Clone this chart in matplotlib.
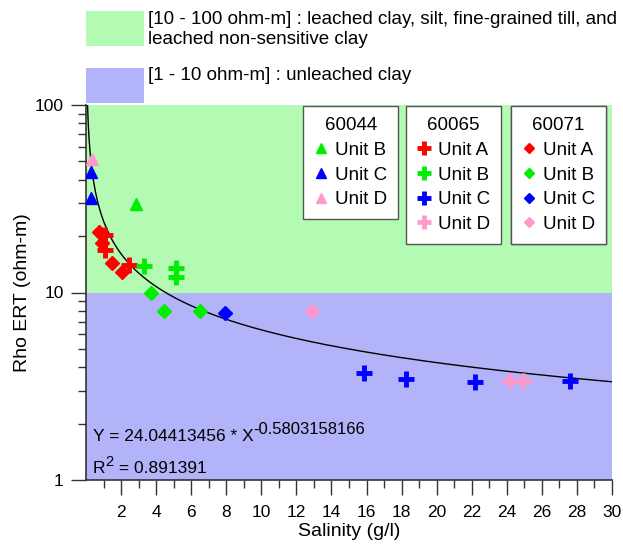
import numpy as np
import matplotlib
matplotlib.use("Agg")
import matplotlib.pyplot as plt
from matplotlib.patches import Rectangle

plt.rcParams['font.family'] = ['Liberation Sans', 'DejaVu Sans']

# fit: Y = a * X^b
fit_a = 24.04413456
fit_b = -0.5803158166
fit_r2 = 0.891391

# 60044 (triangles)
w44_b_x = [2.83]
w44_b_y = [29.5]
w44_c_x = [0.29, 0.29]
w44_c_y = [44.0, 32.0]
w44_d_x = [0.36]
w44_d_y = [51.5]

# 60065 (crosses)
w65_a_x = [1.08, 1.08, 2.45]
w65_a_y = [20.3, 16.9, 14.0]
w65_b_x = [3.32, 5.11, 5.11]
w65_b_y = [13.9, 13.5, 12.1]
w65_c_x = [15.84, 18.23, 22.2, 27.6]
w65_c_y = [3.73, 3.44, 3.35, 3.37]
w65_d_x = [24.2, 24.9]
w65_d_y = [3.37, 3.37]

# 60071 (diamonds)
w71_a_x = [0.76, 0.93, 1.46, 2.07]
w71_a_y = [21.1, 18.3, 14.4, 12.9]
w71_b_x = [3.69, 4.44, 6.5]
w71_b_y = [9.9, 8.0, 8.0]
w71_c_x = [7.92]
w71_c_y = [7.75]
w71_d_x = [12.88]
w71_d_y = [7.97]

red = '#ff0000'
green = '#00ee00'
blue = '#0000ff'
pink = '#ff99cc'
light_green = '#b3fab3'
light_blue = '#b3b3fa'

fig = plt.figure(figsize=(6.23, 5.45), dpi=100)
ax = fig.add_axes([86/623, 65/545, 526/623, 375/545])

ax.axhspan(10, 100, color=light_green, zorder=0, lw=0)
ax.axhspan(1, 10, color=light_blue, zorder=0, lw=0)

xs = np.linspace(0.03, 30, 600)
ax.plot(xs, fit_a * xs ** fit_b, color='black', lw=1, zorder=2)

tri = dict(marker='^', ms=9, ls='none', zorder=3)
crs = dict(marker='+', ms=12, mew=3.5, ls='none', zorder=3)
dia = dict(marker='D', ms=7, ls='none', zorder=3)

h44 = [ax.plot(w44_b_x, w44_b_y, color=green, label='Unit B', **tri)[0],
       ax.plot(w44_c_x, w44_c_y, color=blue, label='Unit C', **tri)[0],
       ax.plot(w44_d_x, w44_d_y, color=pink, label='Unit D', **tri)[0]]
h65 = [ax.plot(w65_a_x, w65_a_y, color=red, label='Unit A', **crs)[0],
       ax.plot(w65_b_x, w65_b_y, color=green, label='Unit B', **crs)[0],
       ax.plot(w65_c_x, w65_c_y, color=blue, label='Unit C', **crs)[0],
       ax.plot(w65_d_x, w65_d_y, color=pink, label='Unit D', **crs)[0]]
h71 = [ax.plot(w71_a_x, w71_a_y, color=red, label='Unit A', **dia)[0],
       ax.plot(w71_b_x, w71_b_y, color=green, label='Unit B', **dia)[0],
       ax.plot(w71_c_x, w71_c_y, color=blue, label='Unit C', **dia)[0],
       ax.plot(w71_d_x, w71_d_y, color=pink, label='Unit D', **dia)[0]]

ax.set_yscale('log')
ax.set_xlim(0, 30)
ax.set_ylim(1, 100)
ax.set_xticks(np.arange(2, 31, 2))
ax.set_xticks(np.arange(1, 30, 2), minor=True)
ax.set_yticks([1, 10, 100])
ax.set_yticklabels(['1', '10', '100'])
ax.tick_params(which='major', direction='out', length=11, width=1, labelsize=12.5, color='#333333')
ax.tick_params(which='minor', direction='out', length=5.5, width=1, color='#333333')
ax.tick_params(axis='x', which='major', pad=7)
ax.tick_params(axis='y', which='major', pad=5)
for s in ['top', 'right']:
    ax.spines[s].set_visible(False)
for s in ['left', 'bottom']:
    ax.spines[s].set_color('#333333')
    ax.spines[s].set_linewidth(1.2)

ax.set_xlabel('Salinity (g/l)', fontsize=14, labelpad=2)
ax.set_ylabel('Rho ERT (ohm-m)', fontsize=14, labelpad=3)

# equation with superscripts
t1 = ax.text(0.013, 0.104, 'Y = 24.04413456 * X', transform=ax.transAxes,
             fontsize=12.5, va='baseline')
ax.annotate('-0.5803158166', xy=(1, 0.5), xycoords=t1, fontsize=12, va='bottom')
t2 = ax.text(0.013, 0.018, 'R', transform=ax.transAxes, fontsize=12.5, va='baseline')
ax.annotate('2', xy=(1, 0.5), xycoords=t2, fontsize=10.5, va='bottom')
ax.annotate(' = %g' % fit_r2, xy=(1.0, 0.0), xycoords=t2, fontsize=12.5, va='bottom',
            xytext=(6.5, 0), textcoords='offset points')

legs = [('60044', h44, 303), ('60065', h65, 406), ('60071', h71, 511)]
for title, handles, xpx in legs:
    lg = ax.legend(handles=handles, title=title, loc='upper left',
                   bbox_to_anchor=(xpx/623, 1 - 106/545), bbox_transform=fig.transFigure,
                   fancybox=False, framealpha=1, edgecolor='#555555', fontsize=13.5,
                   title_fontsize=13.5, handlelength=0.7, handletextpad=0.4,
                   borderpad=0.6, labelspacing=0.4, borderaxespad=0, markerscale=0.8)
    lg.get_frame().set_linewidth(1)
    ax.add_artist(lg)

# top key
fig.patches.append(Rectangle((86/623, 1 - 46/545), 58/623, 35/545,
                             transform=fig.transFigure, color=light_green, lw=0))
fig.patches.append(Rectangle((86/623, 1 - 103/545), 58/623, 35/545,
                             transform=fig.transFigure, color=light_blue, lw=0))
fig.text(148/623, 1 - 19/545, '[10 - 100 ohm-m] : leached clay, silt, fine-grained till, and',
         fontsize=13.5, va='center')
fig.text(148/623, 1 - 40/545, 'leached non-sensitive clay', fontsize=13.5, va='center')
fig.text(148/623, 1 - 75/545, '[1 - 10 ohm-m] : unleached clay', fontsize=13.5, va='center')

fig.savefig('out.png', dpi=100)
